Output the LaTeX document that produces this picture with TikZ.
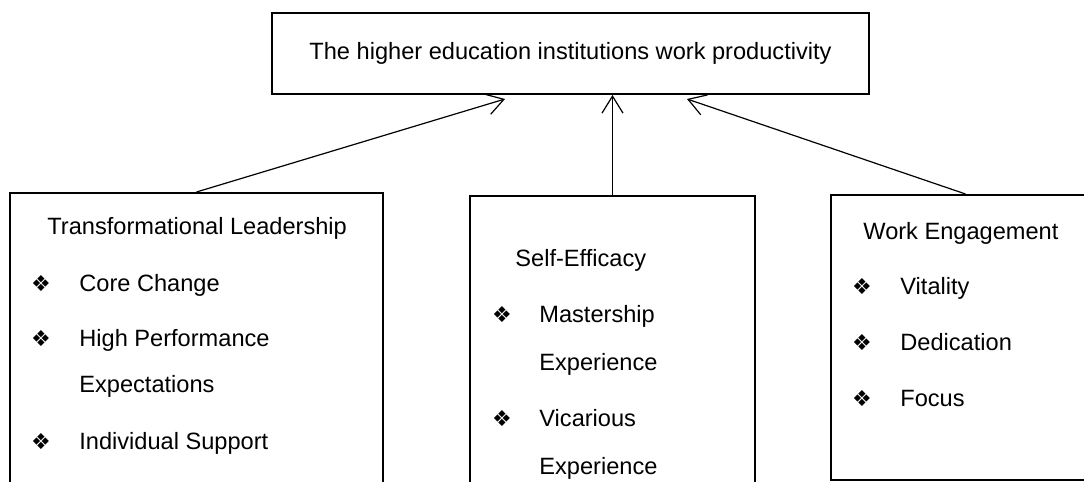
\documentclass[tikz,border=0pt]{standalone}
\usepackage{fontspec}
\setmainfont{Liberation Sans}
\newfontfamily\dingfont{DejaVu Sans}
\usetikzlibrary{
    arrows.meta,
    fit,
    positioning
}

\tikzset{
    box/.style={draw, line width=1pt, inner sep=0pt},
    txt/.style={anchor=base west, inner sep=0pt, font=\fontsize{11.8}{14}\selectfont},
    dot/.style={inner sep=0pt, font=\dingfont\fontsize{11}{13}\selectfont},
    link/.style={line width=0.6pt, -{Straight Barb[length=8.5pt, width=10.5pt]}}
}

\begin{document}
\begin{tikzpicture}[x=5pt, y=5pt]
                        \useasboundingbox (0, 0) rectangle (108.4, 48.2);
                        \clip (0, 0) rectangle (108.4, 48.2);
                        % outcome on top
                        \node[box, minimum width=298.5pt, minimum height=40.5pt, anchor=north west,
                              font=\fontsize{11.8}{14}\selectfont] (top) at (27.1, 47.0)
                            {The higher education institutions work productivity};
                        % the three factor boxes, running off the page
                        \node[box, fit={(1.0, 28.9) (38.3, -2)}] (lead) {};
                        \node[box, fit={(47.0, 28.6) (75.5, -2)}] (eff) {};
                        \node[box, fit={(83.1, 28.7) (110, 0.2)}] (eng) {};
                        \coordinate (tipL) at (50.5, 38.3);
                        \coordinate (tipM) at (61.25, 38.7);
                        \coordinate (tipR) at (68.7, 38.3);
                        \draw[link] (lead.north) -- (tipL);
                        \draw[link] (eff.north) -- (tipM);
                        \draw[link] (eng.north) -- (tipR);
                        % transformational leadership
                        \node[txt] (leadT) at (4.7, 24.7) {Transformational Leadership};
                        \node[txt] (leadA) at (7.9, 19.0) {Core Change};
                        \node[txt] (leadB) at (7.9, 13.5) {High Performance};
                        \node[txt] (leadB2) at (7.9, 8.9) {Expectations};
                        \node[txt] (leadC) at (7.9, 3.2) {Individual Support};
                        \node[dot] (leadAd) at (4.1, 19.8) {❖};
                        \node[dot] (leadBd) at (4.1, 14.3) {❖};
                        \node[dot] (leadCd) at (4.1, 4.0) {❖};
                        % self-efficacy
                        \node[txt] (effT) at (51.5, 21.5) {Self-Efficacy};
                        \node[txt] (effA) at (53.9, 15.9) {Mastership};
                        \node[txt] (effA2) at (53.9, 11.1) {Experience};
                        \node[txt] (effB) at (53.9, 5.5) {Vicarious};
                        \node[txt] (effB2) at (53.9, 0.7) {Experience};
                        \node[dot] (effAd) at (50.2, 16.7) {❖};
                        \node[dot] (effBd) at (50.2, 6.3) {❖};
                        % work engagement
                        \node[txt] (engT) at (86.3, 24.2) {Work Engagement};
                        \node[txt] (engA) at (90.0, 18.7) {Vitality};
                        \node[txt] (engB) at (90.0, 13.1) {Dedication};
                        \node[txt] (engC) at (90.0, 7.5) {Focus};
                        \node[dot] (engAd) at (86.2, 19.5) {❖};
                        \node[dot] (engBd) at (86.2, 13.9) {❖};
                        \node[dot] (engCd) at (86.2, 8.3) {❖};
                    \end{tikzpicture}
\end{document}
